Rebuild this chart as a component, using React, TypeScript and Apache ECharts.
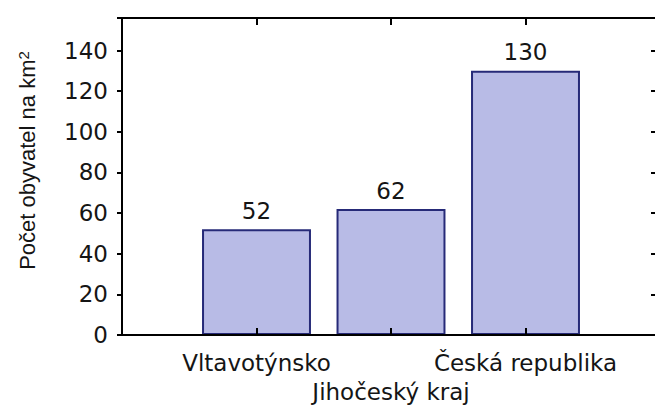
import React, { useEffect, useRef } from "react";
import * as echarts from "echarts";

const categories = ["Vltavotýnsko", "Jihočeský kraj", "Česká republika"];
const values = [52, 62, 130];
const yAxisTitle = "Počet obyvatel na km{sup|2}";
const yMin = 0;
const yMax = 156;
const yStep = 20;

const FONT = "DejaVu Sans";
const TITLE_FONT = "Liberation Sans";
const INK = "#151515";

export default function App() {
  const ref = useRef<HTMLDivElement>(null);
  useEffect(() => {
    if (!ref.current) return;
    const chart = echarts.init(ref.current, null, { renderer: "svg" });
    // pad the category axis so that categories sit at 1, 2, 3 of a 0..4 range
    const xData = ["", ...categories, ""];
    const barData: (number | string)[] = ["-", ...values, "-"];
    const axisLineStyle = { color: "#000", width: 2 };
    const tickStyle = { color: "#000", width: 2 };
    chart.setOption({
      animation: false,
      backgroundColor: "#fff",
      grid: {
        left: 122,
        right: -5,
        top: 18,
        bottom: 73,
        containLabel: false,
        outerBoundsMode: "none",
      },
      xAxis: [
        {
          type: "category",
          data: xData,
          boundaryGap: false,
          position: "bottom",
          z: 5,
          axisLine: { show: true, onZero: false, lineStyle: axisLineStyle },
          axisTick: { show: true, inside: true, length: 7, interval: 0, lineStyle: tickStyle },
          axisLabel: {
            interval: 0,
            margin: 13,
            fontFamily: FONT,
            fontSize: 23,
            color: INK,
            lineHeight: 29,
            formatter: (v: string, i: number) => (i === 2 ? "\n" + v : v),
          },
          splitLine: { show: false },
        },
        {
          type: "category",
          data: xData,
          boundaryGap: false,
          position: "top",
          z: 5,
          axisLine: { show: true, onZero: false, lineStyle: axisLineStyle },
          axisTick: { show: true, inside: true, length: 7, interval: 0, lineStyle: tickStyle },
          axisLabel: { show: false },
          splitLine: { show: false },
        },
      ],
      yAxis: [
        {
          type: "value",
          min: yMin,
          max: yMax,
          interval: yStep,
          position: "left",
          z: 5,
          name: yAxisTitle,
          nameLocation: "middle",
          nameGap: 84,
          nameTextStyle: {
            fontFamily: TITLE_FONT,
            fontSize: 22,
            color: INK,
            padding: [0, 0, 0, 32],
            rich: {
              sup: { fontFamily: TITLE_FONT, fontSize: 15, color: INK, verticalAlign: "top", lineHeight: 22 },
            },
          },
          axisLine: { show: true, onZero: false, lineStyle: axisLineStyle },
          axisTick: { show: true, inside: false, length: 5, lineStyle: tickStyle },
          axisLabel: {
            margin: 14,
            padding: [6, 0, 0, 0],
            fontFamily: FONT,
            fontSize: 23,
            color: INK,
            formatter: (v: number) => (v % yStep === 0 ? String(v) : ""),
          },
          splitLine: { show: false },
        },
        {
          type: "value",
          min: yMin,
          max: yMax,
          interval: yStep,
          position: "right",
          z: 5,
          axisLine: { show: true, onZero: false, lineStyle: axisLineStyle },
          axisTick: { show: true, inside: true, length: 9, lineStyle: tickStyle },
          axisLabel: { show: false },
          splitLine: { show: false },
        },
      ],
      series: [
        {
          type: "bar",
          xAxisIndex: 0,
          yAxisIndex: 0,
          data: barData,
          barWidth: "81%",
          itemStyle: { color: "#b8bbe6", borderColor: "#262a78", borderWidth: 2 },
          label: {
            show: true,
            position: "top",
            distance: 7,
            fontFamily: FONT,
            fontSize: 23,
            color: INK,
          },
        },
      ],
    });
    return () => chart.dispose();
  }, []);
  return (
    <div
      ref={ref}
      style={{ position: "fixed", left: 0, top: 0, width: 655, height: 408, background: "#fff" }}
    />
  );
}
